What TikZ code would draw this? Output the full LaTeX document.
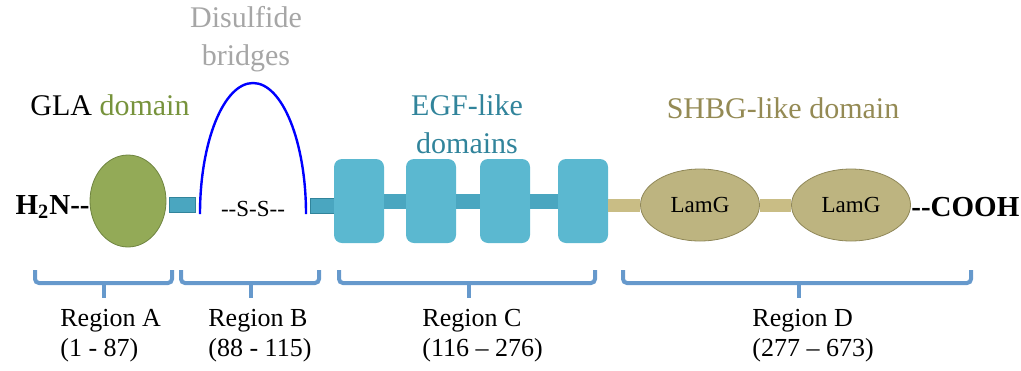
\documentclass[tikz,border=0pt]{standalone}
\usepackage{fontspec}
\setmainfont{Liberation Serif}
\usetikzlibrary{shapes.geometric}
\definecolor{glagreen}{HTML}{93AA57}
\definecolor{gladark}{HTML}{6F8440}
\definecolor{egfblue}{HTML}{5BB8D0}
\definecolor{linkteal}{HTML}{4AA6C0}
\definecolor{lamg}{HTML}{BDB480}
\definecolor{lamgdark}{HTML}{8F8758}
\definecolor{linktan}{HTML}{C9BD85}
\definecolor{bracecol}{HTML}{6699CC}
\definecolor{titlegreen}{HTML}{77933C}
\definecolor{titleteal}{HTML}{31849B}
\definecolor{titletan}{HTML}{948A54}

\begin{document}
\begin{tikzpicture}[x=0.5pt,y=-0.5pt,
  every node/.style={inner sep=0pt},
  gla/.style={ellipse,fill=glagreen,draw=gladark,line width=0.4pt,minimum width=38pt,minimum height=46pt},
  egf/.style={rectangle,rounded corners=4pt,fill=egfblue,minimum width=25pt,minimum height=42pt},
  lamgdom/.style={ellipse,fill=lamg,draw=lamgdark,line width=0.4pt,minimum width=59.5pt,minimum height=36pt,font=\fontsize{11.5}{13}\selectfont},
  tealbar/.style={rectangle,fill=linkteal,draw=titleteal,line width=0.4pt,minimum width=13pt,minimum height=7.5pt},
  tealink/.style={linkteal,line width=7.5pt},
  tanlink/.style={linktan,line width=6.5pt},
  bridge/.style={blue,line width=1.2pt},
  regbrace/.style={bracecol,line width=2pt,rounded corners=2pt},
  title/.style={align=center,font=\fontsize{15}{19}\selectfont},
  terminus/.style={font=\bfseries\fontsize{14.5}{17}\selectfont},
  reglabel/.style={align=left,anchor=north west,font=\fontsize{13}{15}\selectfont}]
\useasboundingbox (0,0) rectangle (1021,370);

% titles
\node[title,text=gray!70] (dstitle) at (246,39) {Disulfide\\bridges};
\node[title] (glatitle) at (110,105) {GLA \textcolor{titlegreen}{domain}};
\node[title,text=titleteal] (egftitle) at (467,124) {EGF-like\\domains};
\node[title,text=titletan] (shbgtitle) at (783,108) {SHBG-like domain};

% chain
\node[terminus,anchor=east] (nterm) at (90,207) {H$_\mathbf{2}$N-{}-};
\node[gla] (gla) at (128,201) {};
\node[tealbar] (l1) at (182,205) {};
\coordinate (sl) at (200,214);
\coordinate (sr) at (306,214);
\draw[bridge] (sl) arc[start angle=180,end angle=360,x radius=53,y radius=131];
\node[font=\fontsize{11.5}{13}\selectfont] (ss) at (253,209) {-{}-S-S-{}-};
\node[tealbar] (l2) at (323,206) {};
\node[egf] (e1) at (359,201) {};
\node[egf] (e2) at (431,201) {};
\node[egf] (e3) at (505,201) {};
\node[egf] (e4) at (583,201) {};
\draw[tealink] (e1.east) -- (e2.west);
\draw[tealink] (e2.east) -- (e3.west);
\draw[tealink] (e3.east) -- (e4.west);
\node[lamgdom] (lg1) at (700,205) {LamG};
\node[lamgdom] (lg2) at (851,205) {LamG};
\draw[tanlink] (e4.east |- lg1.west) -- (lg1.west);
\draw[tanlink] (lg1.east) -- (lg2.west);
\node[terminus,anchor=west] (cterm) at (911,207) {-{}-COOH};

% regions
\draw[regbrace] (35,270) -- (35,283) -- (172,283) -- (172,270);
\draw[regbrace] (104,283) -- (104,298);
\draw[regbrace] (181,270) -- (181,283) -- (319,283) -- (319,270);
\draw[regbrace] (251,283) -- (251,298);
\draw[regbrace] (339,270) -- (339,283) -- (595,283) -- (595,270);
\draw[regbrace] (469,283) -- (469,298);
\draw[regbrace] (623,270) -- (623,283) -- (971,283) -- (971,270);
\draw[regbrace] (799,283) -- (799,298);
\node[reglabel] (ra) at (60,309) {Region A\\(1 - 87)};
\node[reglabel] (rb) at (208,309) {Region B\\(88 - 115)};
\node[reglabel] (rc) at (422,309) {Region C\\(116 -- 276)};
\node[reglabel] (rd) at (752,309) {Region D\\(277 -- 673)};
\end{tikzpicture}
\end{document}
